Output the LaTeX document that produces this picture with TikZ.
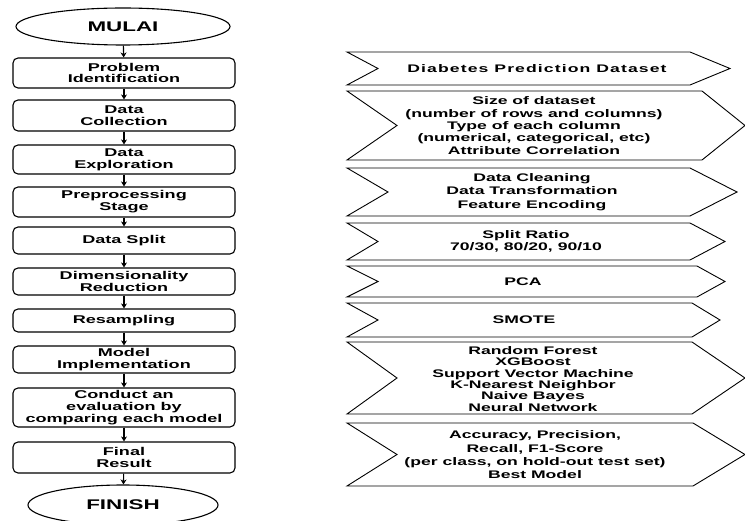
\documentclass[tikz,border=0pt]{standalone}
\usepackage{fontspec}
\setmainfont[FakeStretch=1.6]{Liberation Sans}
\usetikzlibrary{shapes.geometric,arrows.meta}

\tikzset{
   stepbox/.style={draw, rounded corners=5pt, minimum width=222pt, inner sep=2pt, align=center,
      line width=1.1pt, font=\bfseries\fontsize{11.3}{11.8}\selectfont},
   terminal/.style={draw, ellipse, inner sep=0pt, line width=1.1pt, font=\bfseries\fontsize{14}{16}\selectfont},
   flow/.style={-{Stealth[length=5pt,width=6pt]}, line width=1.1pt},
   chev/.style={draw, line width=0.9pt, line join=miter},
   info/.style={align=center, inner sep=0pt, font=\bfseries\fontsize{11}{12.3}\selectfont},
}
% chevron: top, bottom, notch x, body x, tip x
\newcommand{\chevron}[5]{\draw[chev] (347,#1) -- (#3,{(#1+#2)/2}) -- (347,#2) -- (#4,#2) -- (#5,{(#1+#2)/2}) -- (#4,#1) -- cycle;}

\begin{document}
\begin{tikzpicture}[x=1pt, y=-1pt]
   \useasboundingbox (0,0) rectangle (745,521);

   % flow column
   \node[terminal, minimum width=214pt, minimum height=37pt] (mulai) at (123,26.5) {MULAI};
   \node[stepbox, minimum height=30pt] (probid) at (124,73) {Problem\\Identification};
   \node[stepbox, minimum height=31pt] (collect) at (124,115.5) {Data\\Collection};
   \node[stepbox, minimum height=29pt] (explore) at (124,159.5) {Data\\Exploration};
   \node[stepbox, minimum height=30pt] (prep) at (124,202) {Preprocessing\\Stage};
   \node[stepbox, minimum height=27pt] (split) at (124,240.5) {Data Split};
   \node[stepbox, minimum height=27pt] (dimred) at (124,281.5) {Dimensionality\\Reduction};
   \node[stepbox, minimum height=23pt] (resamp) at (124,320.5) {Resampling};
   \node[stepbox, minimum height=27pt] (modimp) at (124,359.5) {Model\\Implementation};
   \node[stepbox, minimum height=39pt] (evalu) at (124,407.5) {Conduct an\\evaluation by\\comparing each model};
   \node[stepbox, minimum height=31pt] (final) at (124,457.5) {Final\\Result};
   \node[terminal, minimum width=190pt, minimum height=40pt] (finish) at (123,505) {FINISH};

   \foreach \a/\b in {mulai/probid, probid/collect, collect/explore, explore/prep, prep/split,
      split/dimred, dimred/resamp, resamp/modimp, modimp/evalu, evalu/final, final/finish}
      \draw[flow] (\a) -- (\b);

   % detail column
   \chevron{52}{85}{378}{690}{730}
   \node[info, font=\bfseries\fontsize{11}{12.3}\selectfont\addfontfeatures{LetterSpace=10}] (dataset) at (537,68.5) {Diabetes Prediction Dataset};
   \chevron{91}{160}{397}{702}{745}
   \node[info] (explinfo) at (534,125.5) {Size of dataset\\(number of rows and columns)\\Type of each column\\(numerical, categorical, etc)\\Attribute Correlation};
   \chevron{168}{216}{388}{690}{737}
   \node[info, font=\bfseries\fontsize{11}{13.3}\selectfont] (prepinfo) at (532,192) {Data Cleaning\\Data Transformation\\Feature Encoding};
   \chevron{223}{260}{378}{690}{725}
   \node[info, font=\bfseries\fontsize{11}{11.8}\selectfont] (splitinfo) at (526,241.5) {Split Ratio\\70/30, 80/20, 90/10};
   \chevron{266}{297}{378}{697}{725}
   \node[info] (pca) at (523,281.5) {PCA};
   \chevron{303}{337}{378}{692}{720}
   \node[info] (smote) at (524,320) {SMOTE};
   \chevron{342}{414}{397}{692}{745}
   \node[info, font=\bfseries\fontsize{11}{11.3}\selectfont] (models) at (533,379) {Random Forest\\XGBoost\\Support Vector Machine\\K-Nearest Neighbor\\Naive Bayes\\Neural Network};
   \chevron{423}{486}{397}{693}{745}
   \node[info, font=\bfseries\fontsize{11}{13.3}\selectfont] (metrics) at (535,455) {Accuracy, Precision,\\Recall, F1-Score\\(per class, on hold-out test set)\\Best Model};
\end{tikzpicture}
\end{document}
